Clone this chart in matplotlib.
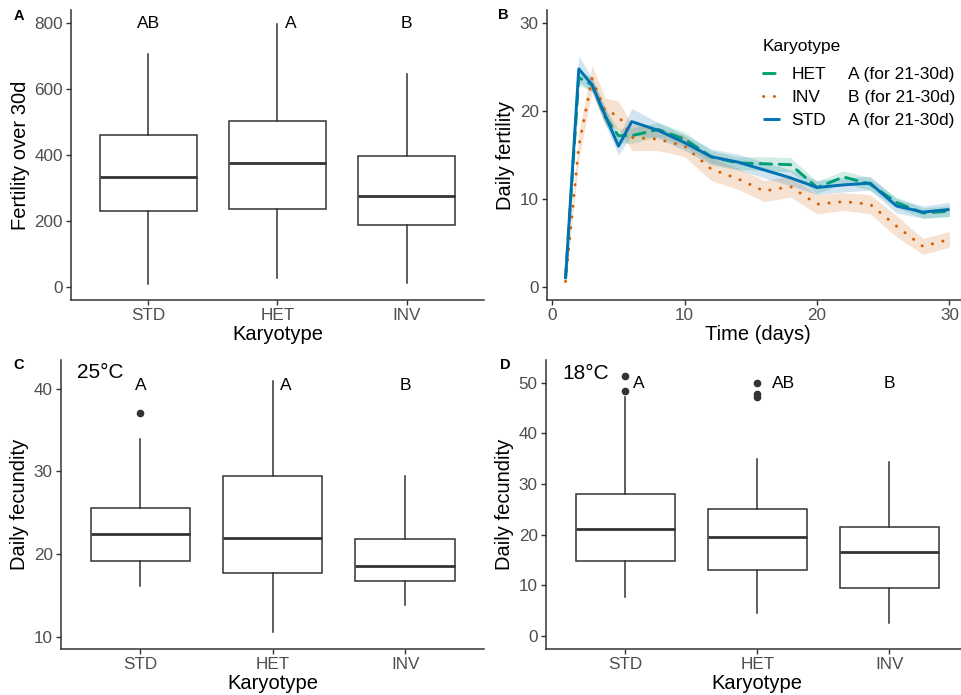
import numpy as np
import matplotlib
matplotlib.use("Agg")
import matplotlib.pyplot as plt

plt.rcParams['font.family'] = ['Liberation Sans', 'DejaVu Sans']

# --- data ---
karyotypes = ["STD", "HET", "INV"]

# panel A: fertility over 30 days (whisker low, q1, median, q3, whisker high)
fert_low = [10, 28, 12]
fert_q1 = [230, 235, 188]
fert_med = [332, 375, 275]
fert_q3 = [462, 503, 398]
fert_high = [705, 797, 645]
fert_letters = ["AB", "A", "B"]

# panel B: daily fertility over time
days = [1, 2, 3, 4, 5, 6, 8, 10, 12, 14, 16, 18, 20, 22, 24, 26, 28, 30]
het_mean = [1.0, 23.8, 23.0, 19.3, 17.2, 17.2, 17.9, 16.8, 14.8, 14.1, 14.0, 13.9, 11.3, 12.5, 11.7, 9.6, 8.4, 8.6]
het_se = [0.3, 0.8, 0.8, 0.9, 0.8, 0.9, 0.8, 0.8, 0.7, 0.7, 0.8, 0.8, 0.7, 0.7, 0.7, 0.6, 0.6, 0.6]
inv_mean = [0.6, 16.0, 23.7, 20.0, 19.5, 17.0, 16.8, 16.0, 13.4, 12.3, 10.9, 11.4, 9.4, 9.7, 9.4, 6.9, 4.6, 5.4]
inv_se = [0.3, 1.5, 1.5, 1.5, 1.6, 1.5, 1.3, 1.2, 1.3, 1.2, 1.2, 1.2, 1.1, 1.0, 1.1, 1.2, 0.9, 0.9]
std_mean = [0.9, 24.8, 23.0, 19.5, 16.0, 18.8, 17.8, 16.4, 14.8, 14.2, 13.3, 12.4, 11.3, 11.6, 11.8, 9.2, 8.5, 8.8]
std_se = [0.3, 1.5, 0.8, 1.0, 1.0, 1.5, 0.9, 0.9, 0.9, 0.9, 0.9, 0.9, 0.8, 0.8, 0.8, 0.8, 0.7, 0.8]
line_names = ["HET", "INV", "STD"]
line_letters = ["A (for 21-30d)", "B (for 21-30d)", "A (for 21-30d)"]

# panel C: daily fecundity at 25C
c25_low = [16.1, 10.6, 13.8]
c25_q1 = [19.2, 17.7, 16.7]
c25_med = [22.45, 21.95, 18.6]
c25_q3 = [25.6, 29.45, 21.8]
c25_high = [33.9, 40.9, 29.4]
c25_fliers = [[37.05], [], []]
c25_letters = ["A", "A", "B"]

# panel D: daily fecundity at 18C
c18_low = [7.6, 4.5, 2.5]
c18_q1 = [14.8, 13.1, 9.5]
c18_med = [21.1, 19.6, 16.6]
c18_q3 = [28.1, 25.0, 21.6]
c18_high = [47.2, 34.9, 34.3]
c18_fliers = [[48.4, 51.4], [47.1, 47.7, 50.0], []]
c18_letters = ["A", "AB", "B"]

TICK_COL = "#4D4D4D"
LINE_COL = "#333333"
W, H = 962, 695


def make_ax(fig, l, r, b, t):
    ax = fig.add_axes([l / W, 1 - b / H, (r - l) / W, (b - t) / H])
    for s in ["top", "right"]:
        ax.spines[s].set_visible(False)
    for s in ["left", "bottom"]:
        ax.spines[s].set_color(LINE_COL)
        ax.spines[s].set_linewidth(1.1)
    ax.tick_params(colors=LINE_COL, labelcolor=TICK_COL, labelsize=12.3, length=3.5, width=1.0, pad=2.5)
    ax.set_facecolor("white")
    return ax


def draw_box(ax, low, q1, med, q3, high, fliers=None):
    stats = []
    for i in range(len(karyotypes)):
        stats.append(dict(whislo=low[i], q1=q1[i], med=med[i], q3=q3[i], whishi=high[i],
                          fliers=fliers[i] if fliers else []))
    ax.bxp(stats, positions=[1, 2, 3], widths=0.75, showcaps=False, patch_artist=True,
           boxprops=dict(facecolor="white", edgecolor=LINE_COL, linewidth=1.1),
           medianprops=dict(color=LINE_COL, linewidth=2.0),
           whiskerprops=dict(color=LINE_COL, linewidth=1.1),
           flierprops=dict(marker="o", markerfacecolor=LINE_COL, markeredgecolor=LINE_COL, markersize=4.5))
    ax.set_xlim(0.4, 3.6)
    ax.set_xticks([1, 2, 3])
    ax.set_xticklabels(karyotypes)
    ax.set_xlabel("Karyotype", fontsize=14.5, labelpad=1)


fig = plt.figure(figsize=(W / 100, H / 100), dpi=100)

# A
axA = make_ax(fig, 71, 484, 300, 10)
draw_box(axA, fert_low, fert_q1, fert_med, fert_q3, fert_high)
axA.set_ylim(-40, 840)
axA.set_yticks([0, 200, 400, 600, 800])
axA.set_ylabel("Fertility over 30d", fontsize=14.5, labelpad=3)
for x, lab in zip([1, 2.1, 3], fert_letters):
    axA.text(x, 800, lab, ha="center", va="center", fontsize=12.5, color="black")

# B
axB = make_ax(fig, 547, 968, 300, 10)
colors = {"HET": "#009E73", "INV": "#D55E00", "STD": "#0072B2"}
styles = {"HET": (0, (4, 2.6)), "INV": (0, (0.1, 3.6)), "STD": "-"}
means = {"HET": het_mean, "INV": inv_mean, "STD": std_mean}
ses = {"HET": het_se, "INV": inv_se, "STD": std_se}
for name in line_names:
    m = np.array(means[name])
    s = np.array(ses[name])
    axB.fill_between(days, m - s, m + s, color=colors[name], alpha=0.18, linewidth=0)
handles = []
for name in line_names:
    ln, = axB.plot(days, means[name], color=colors[name], linestyle=styles[name],
                   linewidth=2.1, dash_capstyle="round", solid_capstyle="butt", label=name)
    handles.append(ln)
axB.set_xlim(-0.4, 31.4)
axB.set_ylim(-1.5, 31.5)
axB.set_xticks([0, 10, 20, 30])
axB.set_yticks([0, 10, 20, 30])
axB.set_xlabel("Time (days)", fontsize=14.5, labelpad=1)
axB.set_ylabel("Daily fertility", fontsize=14.5, labelpad=3)
leg = axB.legend(handles=handles, labels=line_names, title="Karyotype", loc="upper left",
                 bbox_to_anchor=(763 / W, 1 - 39 / H), bbox_transform=fig.transFigure,
                 frameon=False, fontsize=12.5, title_fontsize=12.5, handlelength=1.0,
                 handletextpad=0.65, labelspacing=0.45, borderpad=0, borderaxespad=0)
leg._legend_box.align = "left"
leg._legend_box.sep = 9

# C
axC = make_ax(fig, 61, 484.5, 649, 360)
draw_box(axC, c25_low, c25_q1, c25_med, c25_q3, c25_high, c25_fliers)
axC.set_ylim(8.5, 43.5)
axC.set_yticks([10, 20, 30, 40])
axC.set_ylabel("Daily fecundity", fontsize=14.5, labelpad=3)
for x, lab in zip([1, 2.1, 3], c25_letters):
    axC.text(x, 40.4, lab, ha="center", va="center", fontsize=12.5, color="black")
axC.text(0.7, 42.0, "25°C", ha="center", va="center", fontsize=15, color="black")

# D
axD = make_ax(fig, 546, 968.5, 649, 360)
draw_box(axD, c18_low, c18_q1, c18_med, c18_q3, c18_high, c18_fliers)
axD.set_ylim(-2.6, 54.5)
axD.set_yticks([0, 10, 20, 30, 40, 50])
axD.set_ylabel("Daily fecundity", fontsize=14.5, labelpad=3)
for x, lab in zip([1.1, 2.2, 3], c18_letters):
    axD.text(x, 49.8, lab, ha="center", va="center", fontsize=12.5, color="black")
axD.text(0.7, 51.8, "18°C", ha="center", va="center", fontsize=15, color="black")

# panel tags
for lab, (px, py) in zip("ABCD", [(19, 16), (503, 15), (19, 365), (505, 365)]):
    fig.text(px / W, 1 - py / H, lab, fontsize=10.5, fontweight="bold", ha="center", va="center")

# second legend column, aligned to one x
fig.canvas.draw()
renderer = fig.canvas.get_renderer()
for t, extra in zip(leg.get_texts(), line_letters):
    bb = t.get_window_extent(renderer)
    yc = (bb.y0 + bb.y1) / 2
    fig.text(848 / W, yc / H, extra, fontsize=12.5, ha="left", va="center")

fig.savefig("out.png", dpi=100)
